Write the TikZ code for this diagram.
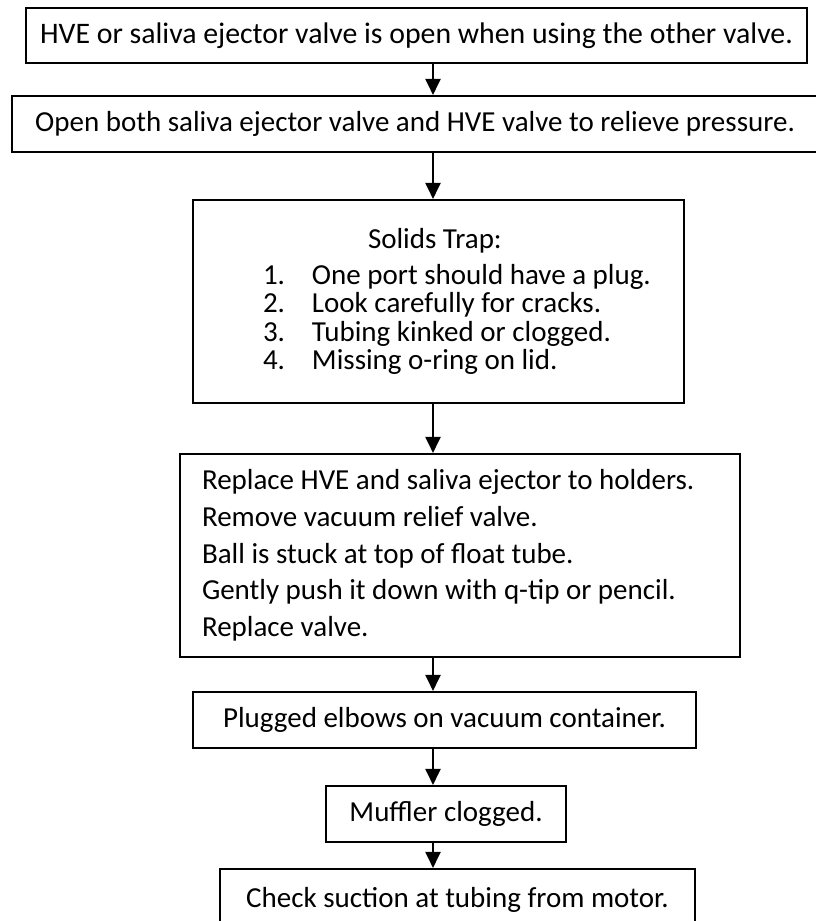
\documentclass[tikz,border=0pt]{standalone}
\usepackage{fontspec}
\setmainfont{Carlito}
\usetikzlibrary{arrows.meta}

\begin{document}
\begin{tikzpicture}[x=1pt,y=-1pt,
  every node/.style={font=\fontsize{29}{36.75}\selectfont},
  box/.style={draw, line width=2.1pt, inner sep=0pt, align=center},
  arr/.style={-{Triangle[length=16pt,width=15pt]}, line width=2pt}]
\clip (0,0) rectangle (816,921);
\coordinate (col) at (433,0);
\node[box, minimum width=781pt, minimum height=55pt, font=\fontsize{29.8}{36}\selectfont] (hve) at (416.5,35.5) {HVE or saliva ejector valve is open when using the other valve.};
\node[box, minimum width=806pt, minimum height=56pt] (relieve) at (415,124) {Open both saliva ejector valve and HVE valve to relieve pressure.};
\node[box, text width=491pt, align=flush left, minimum height=203pt, font=\fontsize{29}{28.5}\selectfont] (trap) at (438.5,301.5) {\hspace*{175pt}Solids Trap:\\[7.5pt]
  \hspace*{70pt}\makebox[49pt][l]{1.}One port should have a plug.\\
  \hspace*{70pt}\makebox[49pt][l]{2.}Look carefully for cracks.\\
  \hspace*{70pt}\makebox[49pt][l]{3.}Tubing kinked or clogged.\\
  \hspace*{70pt}\makebox[49pt][l]{4.}Missing o-ring on lid.};
\node[box, text width=516pt, inner xsep=22pt, align=flush left, minimum height=203pt] (relief) at (460,555.5) {Replace HVE and saliva ejector to holders.\\
  Remove vacuum relief valve.\\
  Ball is stuck at top of float tube.\\
  Gently push it down with q-tip or pencil.\\
  Replace valve.};
\node[box, minimum width=503pt, minimum height=56pt] (elbows) at (444.5,720) {Plugged elbows on vacuum container.};
\node[box, minimum width=240pt, minimum height=56pt] (muffler) at (446,814) {Muffler clogged.};
\node[box, minimum width=475pt, minimum height=62pt] (suction) at (457.5,900) {Check suction at tubing from motor.};
\draw[arr] (hve.south -| col) -- (relieve.north -| col);
\draw[arr] (relieve.south -| col) -- (trap.north -| col);
\draw[arr] (trap.south -| col) -- (relief.north -| col);
\draw[arr] (relief.south -| col) -- (elbows.north -| col);
\draw[arr] (elbows.south -| col) -- (muffler.north -| col);
\draw[arr] (muffler.south -| col) -- (suction.north -| col);
\end{tikzpicture}
\end{document}
